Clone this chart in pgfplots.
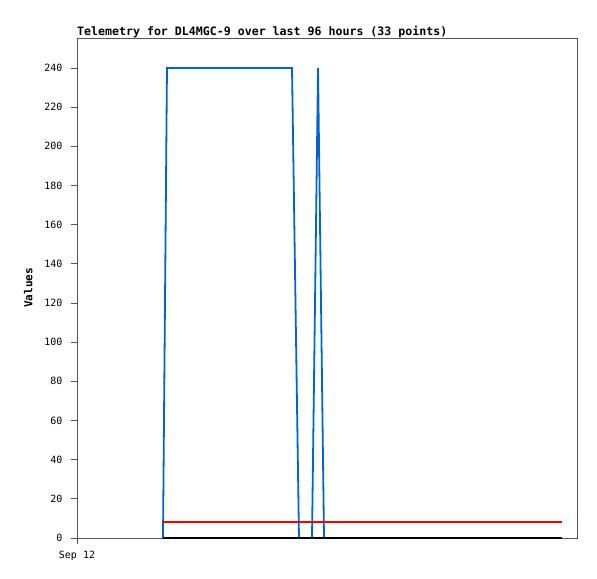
\documentclass[border=0pt]{standalone}
\usepackage{pgfplots}
\pgfplotsset{compat=1.18}
\usepackage{fontspec}
\setmainfont{DejaVu Sans Mono}
\setmonofont{DejaVu Sans Mono}
\usetikzlibrary{calc}
\definecolor{telblue}{RGB}{0,102,204}
\definecolor{telred}{RGB}{255,0,0}
\definecolor{framegray}{RGB}{85,85,85}
\begin{document}
\begin{tikzpicture}[x=1pt,y=1pt]
  \begin{axis}[
    scale only axis,
    width=500pt, height=500pt,
    xmin=-20.69, xmax=99.61,
    ymin=0, ymax=255.3,
    xtick={-20.69}, xticklabels={Sep 12},
    ytick={0,20,...,240},
    xtick pos=bottom, ytick pos=left,
    tick align=outside,
    major tick length=6pt,
    tick style={framegray, line width=0.8pt},
    axis line style={framegray, line width=0.8pt},
    tick label style={font=\fontsize{10}{12}\selectfont},
    yticklabel style={xshift=-5pt},
    xticklabel style={yshift=-4pt},
    /pgf/number format/assume math mode=true,
    ylabel={\textbf{Values}},
    ylabel style={font=\fontsize{11}{13}\selectfont},
    ylabel shift=5pt,
    title={\textbf{Telemetry for DL4MGC-9 over last 96 hours (33 points)}},
    title style={font=\fontsize{11.6}{13}\selectfont, at={(0,1)}, anchor=south west, yshift=-9pt, inner xsep=0pt},
    clip=false,
  ]
    \addplot[telblue, line width=1.8pt, mark=none] coordinates {
      (0,0) (0.96,240) (31.04,240) (32.72,0) (35.85,0) (37.30,240) (38.74,0) (96,0)
    };
    \addplot[telred, line width=1.8pt, mark=none] coordinates {
      (0,8) (96,8)
    };
    \addplot[black, line width=1.8pt, mark=none] coordinates {
      (0,0) (96,0)
    };
  \end{axis}
  \path[use as bounding box] ($(current axis.south west)+(-77pt,-41pt)$) rectangle ($(current axis.north east)+(20pt,38pt)$);
\end{tikzpicture}
\end{document}
